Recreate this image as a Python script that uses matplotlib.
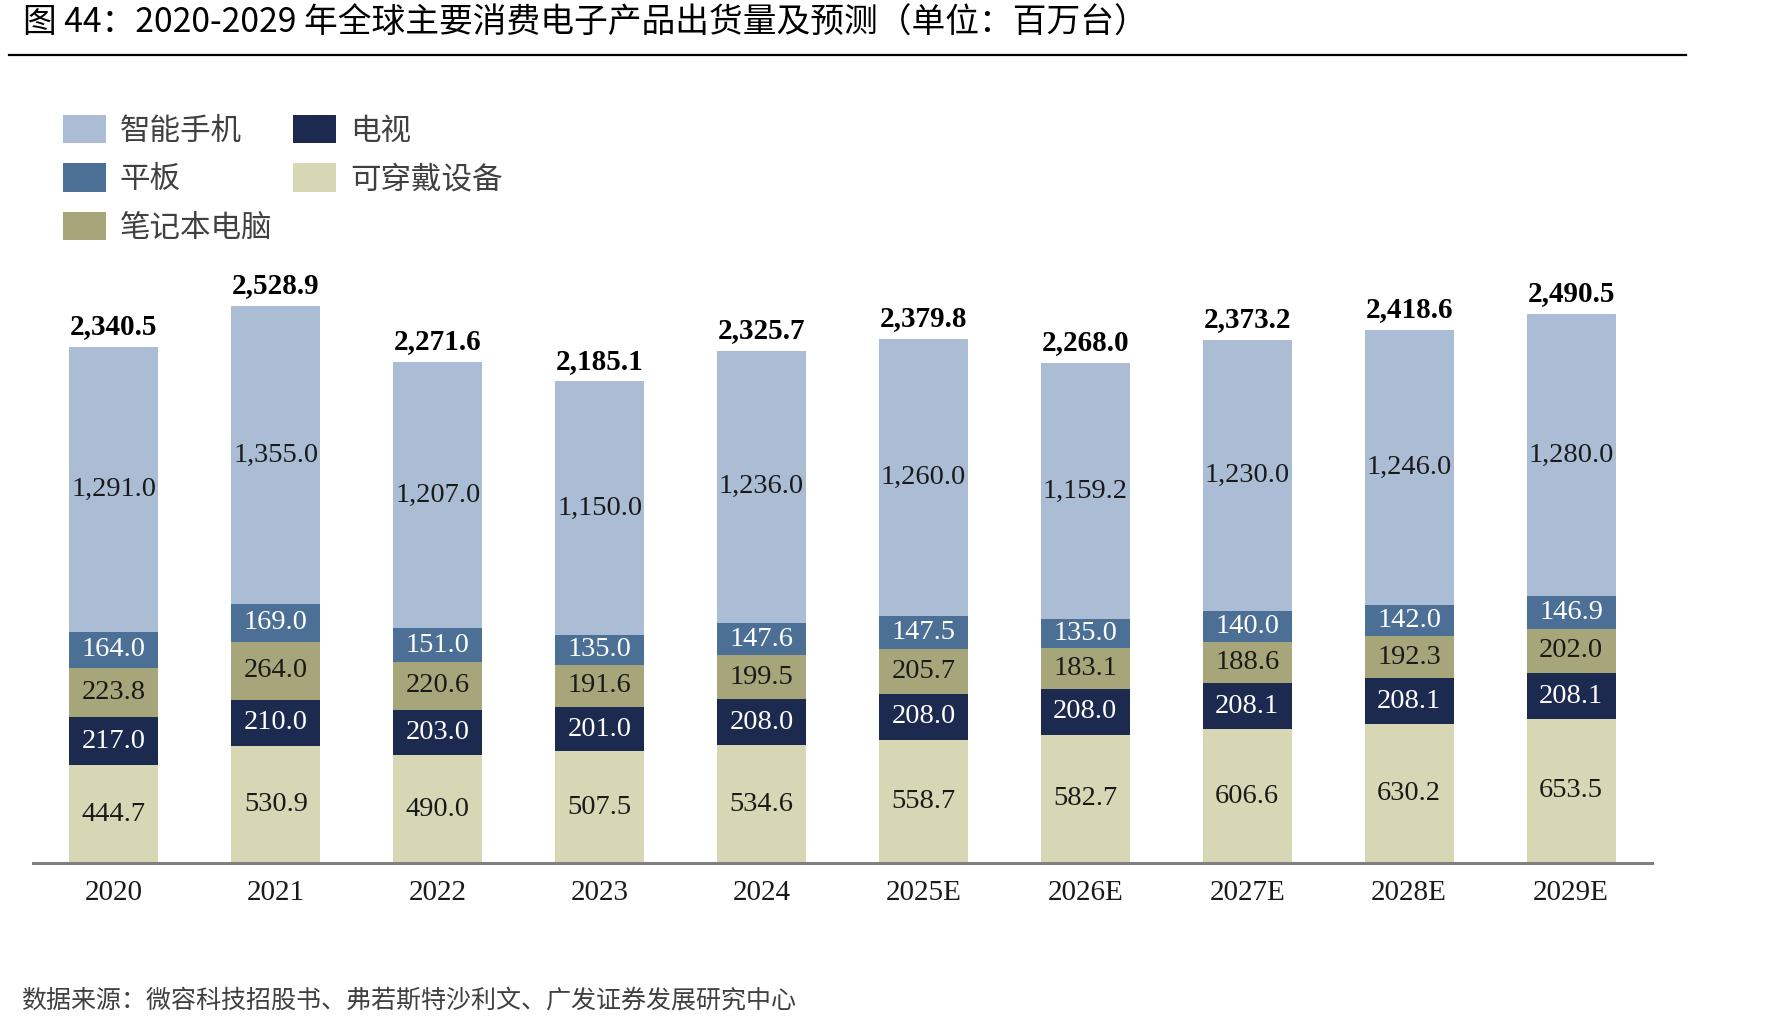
import matplotlib
matplotlib.use("Agg")
import matplotlib.pyplot as plt
from matplotlib.patches import Patch
from matplotlib.lines import Line2D
import numpy as np

plt.rcParams['font.family'] = ['Noto Sans CJK SC', 'DejaVu Sans']

years = ["2020", "2021", "2022", "2023", "2024", "2025E", "2026E", "2027E", "2028E", "2029E"]
wearables = [444.7, 530.9, 490.0, 507.5, 534.6, 558.7, 582.7, 606.6, 630.2, 653.5]
tv = [217.0, 210.0, 203.0, 201.0, 208.0, 208.0, 208.0, 208.1, 208.1, 208.1]
notebook = [223.8, 264.0, 220.6, 191.6, 199.5, 205.7, 183.1, 188.6, 192.3, 202.0]
tablet = [164.0, 169.0, 151.0, 135.0, 147.6, 147.5, 135.0, 140.0, 142.0, 146.9]
smartphone = [1291.0, 1355.0, 1207.0, 1150.0, 1236.0, 1260.0, 1159.2, 1230.0, 1246.0, 1280.0]
totals = [2340.5, 2528.9, 2271.6, 2185.1, 2325.7, 2379.8, 2268.0, 2373.2, 2418.6, 2490.5]

series = [
    ("可穿戴设备", wearables, "#D7D7B5", "#1a1a1a"),
    ("电视", tv, "#1C2A50", "white"),
    ("笔记本电脑", notebook, "#A6A67A", "#1a1a1a"),
    ("平板", tablet, "#4B6F95", "white"),
    ("智能手机", smartphone, "#AABDD4", "#1a1a1a"),
]

W, H = 1790, 1031
fig = plt.figure(figsize=(W / 100, H / 100), dpi=100)

ax = fig.add_axes([33 / W, (H - 863) / H, 1619 / W, 617 / H])
x = np.arange(len(years))
bottom = np.zeros(len(years))
num_font = dict(family="Liberation Serif", size=20.5)
handles = {}
for name, vals, col, tcol in series:
    vals = np.array(vals)
    ax.bar(x, vals, bottom=bottom, width=0.55, color=col, edgecolor="none", zorder=2)
    handles[name] = Patch(facecolor=col, edgecolor="none")
    for xi, b, v in zip(x, bottom, vals):
        ax.text(xi, b + v / 2, f"{v:,.1f}", ha="center", va="center", color=tcol, zorder=3, **num_font)
    bottom = bottom + vals

for xi, t in zip(x, totals):
    ax.annotate(f"{t:,.1f}", (xi, t), xytext=(0, 5), textcoords="offset points",
                ha="center", va="bottom", fontweight="bold", family="Liberation Serif", size=21, color="black")

ax.set_xlim(-0.5, 9.5)
ax.set_ylim(0, 2800)
for s in ["top", "right", "left"]:
    ax.spines[s].set_visible(False)
ax.spines["bottom"].set_color("#808080")
ax.spines["bottom"].set_linewidth(2.2)
ax.set_yticks([])
ax.set_xticks(x)
ax.set_xticklabels(years, family="Liberation Serif", size=21, color="#1a1a1a")
ax.tick_params(axis="x", length=0, pad=12.5)

order = ["智能手机", "平板", "笔记本电脑", "电视", "可穿戴设备"]
leg = fig.legend([handles[n] for n in order], order, loc="upper left",
                 bbox_to_anchor=(63 / W, 1 - 115 / H), ncol=2, frameon=False,
                 prop=dict(family=["Noto Sans CJK SC"], size=22),
                 handlelength=1.4, handleheight=1.05, handletextpad=0.45,
                 labelspacing=0.55, columnspacing=0.7, borderpad=0, borderaxespad=0)
for t in leg.get_texts():
    t.set_color("#404040")

fig.text(23 / W, 1 - 23 / H, "图 44：2020-2029 年全球主要消费电子产品出货量及预测（单位：百万台）",
         ha="left", va="center", size=24.3, color="black")
fig.add_artist(Line2D([9 / W, 1686 / W], [1 - 55 / H, 1 - 55 / H], color="black", linewidth=1.6,
                      transform=fig.transFigure))
fig.text(21 / W, 1 - 1001 / H, "数据来源：微容科技招股书、弗若斯特沙利文、广发证券发展研究中心",
         ha="left", va="center", size=18, color="#404040")

fig.savefig("out.png", dpi=100)
